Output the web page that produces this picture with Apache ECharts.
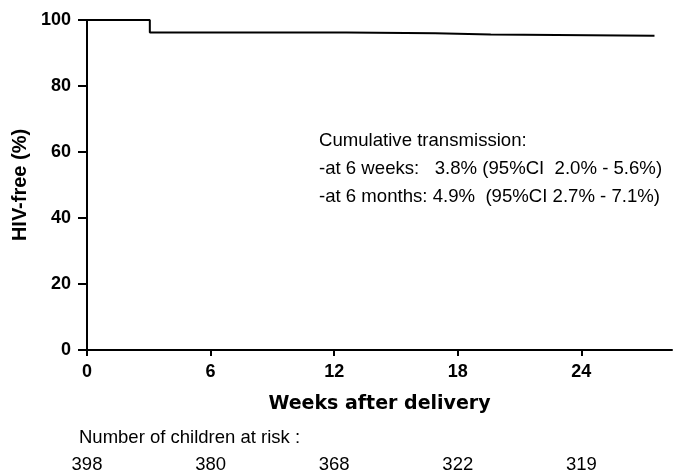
<!DOCTYPE html>
<html lang="en">
<head>
    <meta charset="UTF-8">
    <script src="https://cdn.jsdelivr.net/npm/echarts@6/dist/echarts.min.js"></script>
    <title>HIV-free survival</title>
</head>
<body style="margin:0;background:#fff">
    <div id="main" style="width:678px;height:471px;"></div>
<script type="text/javascript">
    // Kaplan-Meier steps: [week, HIV-free %]
    var kmWeeks = [0, 3.05, 12.6, 16.9, 19.6, 27.55];
    var kmValues = [100, 96.2, 96.0, 95.6, 95.2, 95.2];
    var xTicks = [0, 6, 12, 18, 24];
    var riskWeeks = [0, 6, 12, 18, 24];
    var riskCounts = [398, 380, 368, 322, 319];
    var noteLines = [
        'Cumulative transmission:',
        '-at 6 weeks:   3.8% (95%CI  2.0% - 5.6%)',
        '-at 6 months: 4.9%  (95%CI 2.7% - 7.1%)'
    ];

    var chart = echarts.init(document.getElementById('main'));
    var boldFont = "'Liberation Sans', Arial, sans-serif";
    var wideFont = "'DejaVu Sans', Verdana, sans-serif";
    var plainFont = "'Liberation Sans', Arial, sans-serif";

    var pts = [];
    for (var i = 0; i < kmWeeks.length; i++) {
        pts.push([kmWeeks[i], kmValues[i]]);
    }

    var option = {
        animation: false,
        grid: { left: 87, right: 6, top: 20, bottom: 121 },
        xAxis: {
            type: 'value',
            min: 0,
            max: 28.4,
            interval: 6,
            name: 'Weeks after delivery',
            nameLocation: 'middle',
            nameGap: 45,
            nameTextStyle: { fontFamily: wideFont, fontWeight: 'bold', fontSize: 19, color: '#000' },
            axisLine: { lineStyle: { color: '#000', width: 2 } },
            axisTick: { show: true, length: 6, lineStyle: { color: '#000', width: 2 }, customValues: xTicks },
            axisLabel: { fontFamily: boldFont, fontWeight: 'bold', fontSize: 18, color: '#000', margin: 13, customValues: xTicks },
            splitLine: { show: false }
        },
        yAxis: {
            type: 'value',
            min: 0,
            max: 100,
            interval: 20,
            name: 'HIV-free (%)',
            nameLocation: 'middle',
            nameGap: 55,
            nameTextStyle: { fontFamily: boldFont, fontWeight: 'bold', fontSize: 20, color: '#000' },
            axisLine: { show: true, lineStyle: { color: '#000', width: 2 } },
            axisTick: { show: true, length: 9, lineStyle: { color: '#000', width: 2 } },
            axisLabel: { fontFamily: boldFont, fontWeight: 'bold', fontSize: 18, color: '#000', margin: 16 },
            splitLine: { show: false }
        },
        series: [{
            type: 'line',
            step: 'end',
            data: pts,
            symbol: 'none',
            lineStyle: { color: '#000', width: 2 }
        }]
    };
    chart.setOption(option);

    // annotation and at-risk table
    var graphics = [];
    for (var j = 0; j < noteLines.length; j++) {
        graphics.push({
            type: 'text', left: 319, top: 131 + j * 28,
            style: { text: noteLines[j], fontFamily: plainFont, fontSize: 18.6, fill: '#000' }
        });
    }
    graphics.push({
        type: 'text', left: 79, top: 428,
        style: { text: 'Number of children at risk :', fontFamily: plainFont, fontSize: 18.5, fill: '#000' }
    });
    for (var k = 0; k < riskWeeks.length; k++) {
        var px = chart.convertToPixel({ xAxisIndex: 0 }, riskWeeks[k]);
        graphics.push({
            type: 'text', x: px, y: 455,
            style: { text: String(riskCounts[k]), fontFamily: plainFont, fontSize: 18.5, fill: '#000', align: 'center' }
        });
    }
    chart.setOption({ graphic: graphics });
</script>
</body>
</html>
